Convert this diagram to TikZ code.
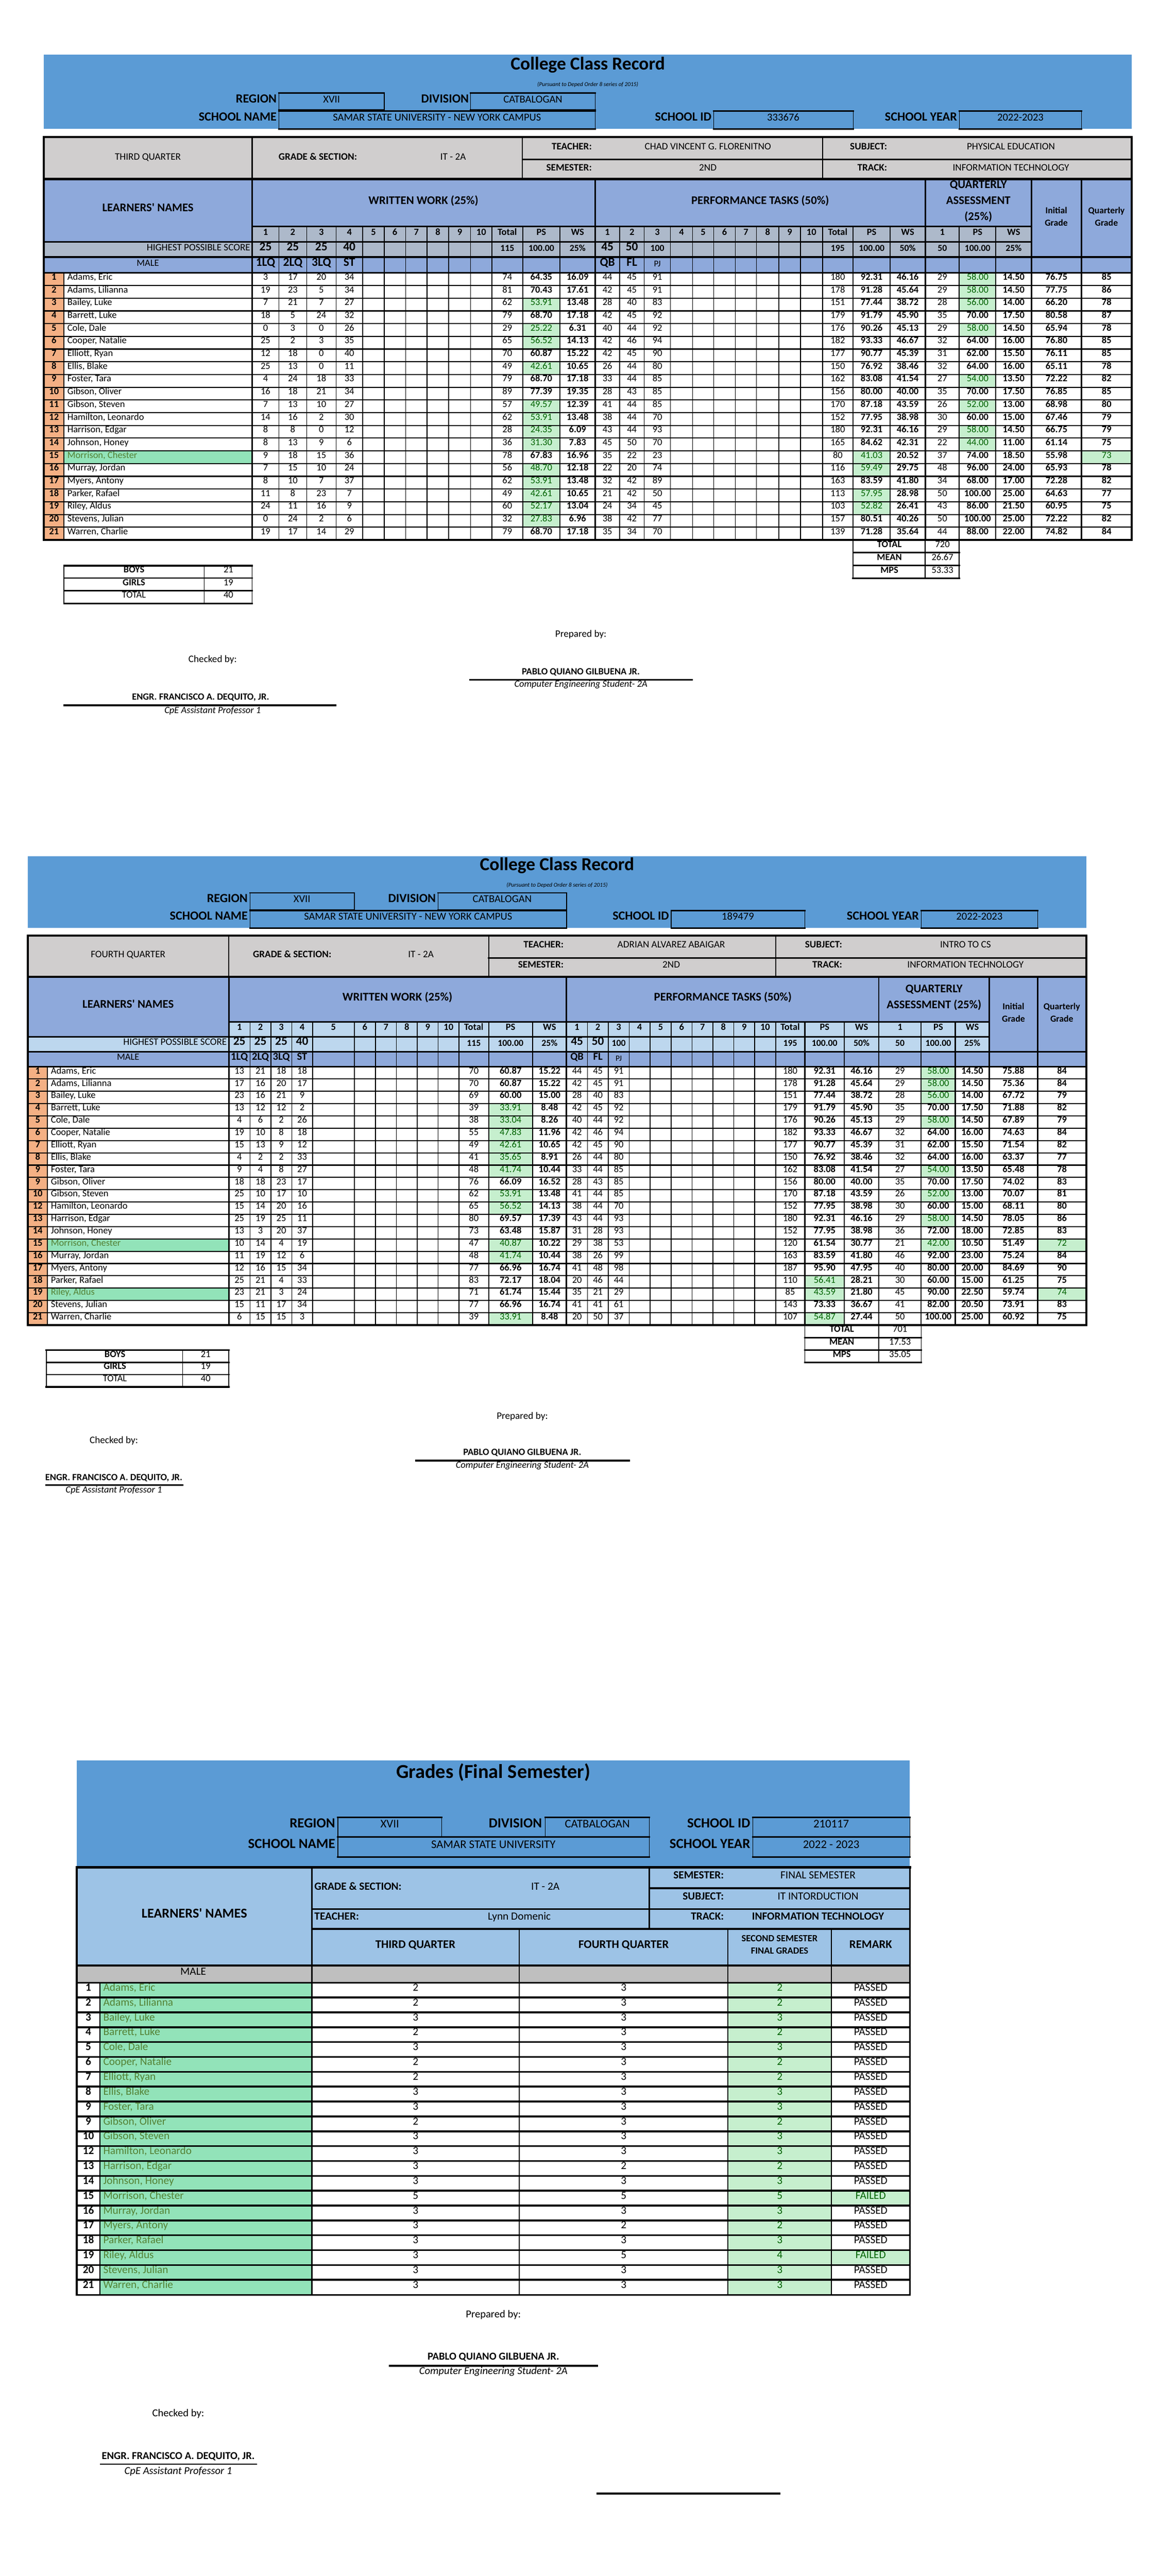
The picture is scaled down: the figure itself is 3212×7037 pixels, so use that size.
\documentclass[tikz,border=0pt]{standalone}
\usepackage{fontspec}
\setmainfont{Carlito}
\newcommand{\fsz}[1]{\fontsize{#1pt}{#1pt}\selectfont}
\definecolor{barblue}{HTML}{5B9BD5}
\definecolor{hdrblue}{HTML}{8EA9DB}
\definecolor{hdrgray}{HTML}{D0CECE}
\definecolor{hpsA}{HTML}{ADB9CA}
\definecolor{hpsB}{HTML}{BDD7EE}
\definecolor{lblue}{HTML}{9DC3E6}
\definecolor{malegray}{HTML}{BFBFBF}
\definecolor{numorange}{HTML}{F4B084}
\definecolor{cN}{HTML}{FFFFFF}
\definecolor{cNt}{HTML}{000000}
\definecolor{cG}{HTML}{C6EFCE}
\definecolor{cGt}{HTML}{006100}
\definecolor{cM}{HTML}{92E3B9}
\definecolor{cMt}{HTML}{548235}
\def\Nf{}\def\Gf{\mdseries}\def\Mf{}
\def\gchar{g}\def\mchar{m}
\def\splitg#1#2\endsplit{\def\firstch{#1}\def\restch{#2}}
\newcommand{\cellcol}[8]{%
  \foreach \itm [count=\rn] in {#8} {%
    \expandafter\splitg\itm\endsplit
    \ifx\firstch\gchar \def\cst{G}\let\cvl\restch
    \else\ifx\firstch\mchar \def\cst{M}\let\cvl\restch
    \else \def\cst{N}\let\cvl\itm \fi\fi
    \pgfmathsetmacro\ya{#4+(\rn-1)*#5}%
    \pgfmathsetmacro\yb{#4+\rn*#5}%
    \pgfmathsetmacro\ym{#4+(\rn-0.5)*#5}%
    \fill[fill=c\cst] (#2,\ya) rectangle (#3,\yb);
    \if#7c
      \node[#6, text=c\cst t] (#1-\rn) at ({(#2+#3)/2},\ym) {\csname\cst f\endcsname\cvl};
    \else
      \node[#6, text=c\cst t, anchor=mid west] (#1-\rn) at ({#2+9},\ym) {\csname\cst f\endcsname\cvl};
    \fi
  }%
}
\newcommand{\numcol}[7]{%
  \foreach \itm [count=\rn] in {#7} {%
    \pgfmathsetmacro\ym{#4+(\rn-0.5)*#5}%
    \node[#6] (#1-\rn) at ({(#2+#3)/2},\ym) {\itm};
  }%
}
\newcommand{\hlin}[4]{\draw[line width=#4pt] (#1,#3) -- (#2,#3);}
\newcommand{\vlin}[4]{\draw[line width=#4pt] (#1,#2) -- (#1,#3);}
\newcommand{\tbox}[4]{\draw[line width=2pt] (#1,#2) rectangle (#3,#4); \draw[line width=4pt] (#1,#2) -- (#3,#2) (#1,#4) -- (#3,#4);}
\tikzset{
  hb/.style={inner sep=0pt, anchor=mid, font=\fsz{#1}\bfseries},
  hr/.style={inner sep=0pt, anchor=mid, font=\fsz{#1}},
  hi/.style={inner sep=0pt, anchor=mid, font=\fsz{#1}\itshape},
  dat/.style={hr=26}, datb/.style={hb=26},
  dat3/.style={hr=30}, dat3b/.style={hb=30},
}
\begin{document}
\begin{tikzpicture}[x=1pt,y=-1pt,line cap=rect]
\useasboundingbox (0,0) rectangle (3212,7037);
\fill[white] (0,0) rectangle (3212,7037);

%%%%%%%%%%%%%%%% TABLE 1 %%%%%%%%%%%%%%%%
\fill[barblue] (120,149) rectangle (3092,352);
\node[hb=50] (t1title) at (1606,189) {College Class Record};
\node[hi=16] (t1sub) at (1606,233) {(Pursuant to Deped Order 8 series of 2015)};
\tbox{762}{254}{1050}{301}
\tbox{1286}{254}{1626}{301}
\tbox{762}{303}{1626}{352}
\tbox{1950}{303}{2331}{352}
\tbox{2621}{303}{2955}{352}
\node[hb=34, anchor=mid east] (t1lr) at (756,278) {REGION};
\node[hr=29] (t1vr) at (906,278) {XVII};
\node[hb=34, anchor=mid east] (t1ld) at (1281,278) {DIVISION};
\node[hr=29] (t1vd) at (1456,278) {CATBALOGAN};
\node[hb=34, anchor=mid east] (t1ls) at (756,328) {SCHOOL NAME};
\node[hr=29] (t1vs) at (1194,328) {SAMAR STATE UNIVERSITY - NEW YORK CAMPUS};
\node[hb=34, anchor=mid east] (t1li) at (1944,328) {SCHOOL ID};
\node[hr=29] (t1vi) at (2140,328) {333676};
\node[hb=34, anchor=mid east] (t1ly) at (2615,328) {SCHOOL YEAR};
\node[hr=29] (t1vy) at (2788,328) {2022-2023};

\fill[hdrgray] (120,374) rectangle (3092,489);
\fill[hdrblue] (120,489) rectangle (3092,745);
\fill[hpsA] (689,618) rectangle (2818,661);
\fill[hpsA] (120,661) rectangle (2818,702);
\fill[numorange] (120,745) rectangle (175,1475);

\node[hr=27] (t1q) at (404,434) {THIRD QUARTER};
\node[hb=27, anchor=mid west] (t1gs) at (761,434) {GRADE \& SECTION:};
\node[hr=27] (t1gsv) at (1238,434) {IT - 2A};
\node[hb=27, anchor=mid east] (t1te) at (1617,407) {TEACHER:};
\node[hr=27] (t1tev) at (1934,407) {CHAD VINCENT G. FLORENITNO};
\node[hb=27, anchor=mid east] (t1se) at (1617,464) {SEMESTER:};
\node[hr=27] (t1sev) at (1934,464) {2ND};
\node[hb=27, anchor=mid east] (t1su) at (2424,407) {SUBJECT:};
\node[hr=27] (t1suv) at (2762,407) {PHYSICAL EDUCATION};
\node[hb=27, anchor=mid east] (t1tr) at (2424,464) {TRACK:};
\node[hr=27] (t1trv) at (2762,464) {INFORMATION TECHNOLOGY};

\node[hb=32] (t1ln) at (404,575) {LEARNERS\textquotesingle{} NAMES};
\node[hb=32] (t1ww) at (1157,555) {WRITTEN WORK (25\%)};
\node[hb=32] (t1pt) at (2077,555) {PERFORMANCE TASKS (50\%)};
\node[hb=32] (t1qa1) at (2673,512) {QUARTERLY};
\node[hb=32] (t1qa2) at (2673,556) {ASSESSMENT};
\node[hb=32] (t1qa3) at (2673,599) {(25\%)};
\node[hb=25] (t1ig1) at (2886,581) {Initial};
\node[hb=25] (t1ig2) at (2886,615) {Grade};
\node[hb=25] (t1qg1) at (3023,581) {Quarterly};
\node[hb=25] (t1qg2) at (3023,615) {Grade};

\foreach \x/\t [count=\i] in {725.5/1,800/2,878/3,954.5/4,1020.5/5,1079/6,1137.5/7,1196.5/8,1256/9,1315/10,1386/Total,1479/PS,1578/WS,1659.5/1,1726.5/2,1796/3,1862/4,1921/5,1979.5/6,2038/7,2097.5/8,2157.5/9,2217/10,2289/Total,2381.5/PS,2480/WS,2574.5/1,2671/PS,2769.5/WS}
  {\node[hb=26] (t1cn-\i) at (\x,640) {\t};}
\node[hr=27, anchor=mid east] (t1hps) at (684,682) {HIGHEST POSSIBLE SCORE};
\foreach \x/\t [count=\i] in {725.5/25,800/25,878/25,954.5/40,1659.5/45,1726.5/50}
  {\node[hb=33] (t1hb-\i) at (\x,682) {\t};}
\foreach \x/\t [count=\i] in {1386/115,1479/100.00,1578/25\%,1796/100,2289/195,2381.5/100.00,2480/50\%,2574.5/50,2671/100.00,2769.5/25\%}
  {\node[hb=25] (t1hr-\i) at (\x,684) {\t};}
\node[hr=26] (t1male) at (404,724) {MALE};
\foreach \x/\t [count=\i] in {725.5/1LQ,800/2LQ,878/3LQ,954.5/ST,1659.5/QB,1726.5/FL}
  {\node[hb=33] (t1ml-\i) at (\x,724) {\t};}
\node[hr=24] (t1pj) at (1796,726) {PJ};

\numcol{t1no}{120}{175}{745}{34.76}{datb}{1,...,21}
\cellcol{t1nm}{175}{689}{745}{34.76}{dat}{l}{{Adams, Eric},{Adams, Lilianna},{Bailey, Luke},{Barrett, Luke},{Cole, Dale},{Cooper, Natalie},{Elliott, Ryan},{Ellis, Blake},{Foster, Tara},{Gibson, Oliver},{Gibson, Steven},{Hamilton, Leonardo},{Harrison, Edgar},{Johnson, Honey},m{Morrison, Chester},{Murray, Jordan},{Myers, Antony},{Parker, Rafael},{Riley, Aldus},{Stevens, Julian},{Warren, Charlie}}
\cellcol{t1w1}{689}{762}{745}{34.76}{dat}{c}{3,19,7,18,0,25,12,25,4,16,7,14,8,8,9,7,8,11,24,0,19}
\cellcol{t1w2}{762}{838}{745}{34.76}{dat}{c}{17,23,21,5,3,2,18,13,24,18,13,16,8,13,18,15,10,8,11,24,17}
\cellcol{t1w3}{838}{918}{745}{34.76}{dat}{c}{20,5,7,24,0,3,0,0,18,21,10,2,0,9,15,10,7,23,16,2,14}
\cellcol{t1w4}{918}{991}{745}{34.76}{dat}{c}{34,34,27,32,26,35,40,11,33,34,27,30,12,6,36,24,37,7,9,6,29}
\cellcol{t1wt}{1344}{1428}{745}{34.76}{dat}{c}{74,81,62,79,29,65,70,49,79,89,57,62,28,36,78,56,62,49,60,32,79}
\cellcol{t1wp}{1428}{1530}{745}{34.76}{datb}{c}{64.35,70.43,g53.91,68.70,g25.22,g56.52,60.87,g42.61,68.70,77.39,g49.57,g53.91,g24.35,g31.30,67.83,g48.70,g53.91,g42.61,g52.17,g27.83,68.70}
\cellcol{t1ww}{1530}{1626}{745}{34.76}{datb}{c}{16.09,17.61,13.48,17.18,6.31,14.13,15.22,10.65,17.18,19.35,12.39,13.48,6.09,7.83,16.96,12.18,13.48,10.65,13.04,6.96,17.18}
\cellcol{t1p1}{1626}{1693}{745}{34.76}{dat}{c}{44,42,28,42,40,42,42,26,33,28,41,38,43,45,35,22,32,21,24,38,35}
\cellcol{t1p2}{1693}{1760}{745}{34.76}{dat}{c}{45,45,40,45,44,46,45,44,44,43,44,44,44,50,22,20,42,42,34,42,34}
\cellcol{t1p3}{1760}{1832}{745}{34.76}{dat}{c}{91,91,83,92,92,94,90,80,85,85,85,70,93,70,23,74,89,50,45,77,70}
\cellcol{t1pt}{2247}{2331}{745}{34.76}{dat}{c}{180,178,151,179,176,182,177,150,162,156,170,152,180,165,80,116,163,113,103,157,139}
\cellcol{t1pp}{2331}{2432}{745}{34.76}{datb}{c}{92.31,91.28,77.44,91.79,90.26,93.33,90.77,76.92,83.08,80.00,87.18,77.95,92.31,84.62,g41.03,g59.49,83.59,g57.95,g52.82,80.51,71.28}
\cellcol{t1pw}{2432}{2528}{745}{34.76}{datb}{c}{46.16,45.64,38.72,45.90,45.13,46.67,45.39,38.46,41.54,40.00,43.59,38.98,46.16,42.31,20.52,29.75,41.80,28.98,26.41,40.26,35.64}
\cellcol{t1q1}{2528}{2621}{745}{34.76}{dat}{c}{29,29,28,35,29,32,31,32,27,35,26,30,29,22,37,48,34,50,43,50,44}
\cellcol{t1qp}{2621}{2721}{745}{34.76}{datb}{c}{g58.00,g58.00,g56.00,70.00,g58.00,64.00,62.00,64.00,g54.00,70.00,g52.00,60.00,g58.00,g44.00,74.00,96.00,68.00,100.00,86.00,100.00,88.00}
\cellcol{t1qw}{2721}{2818}{745}{34.76}{datb}{c}{14.50,14.50,14.00,17.50,14.50,16.00,15.50,16.00,13.50,17.50,13.00,15.00,14.50,11.00,18.50,24.00,17.00,25.00,21.50,25.00,22.00}
\cellcol{t1ig}{2818}{2955}{745}{34.76}{datb}{c}{76.75,77.75,66.20,80.58,65.94,76.80,76.11,65.11,72.22,76.85,68.98,67.46,66.75,61.14,55.98,65.93,72.28,64.63,60.95,72.22,74.82}
\cellcol{t1qg}{2955}{3092}{745}{34.76}{datb}{c}{85,86,78,87,78,85,85,78,82,85,80,79,79,75,g73,78,82,77,75,82,84}

\foreach \x in {762,838,918,991,1050,1108,1167,1226,1286,1693,1760,1832,1892,1950,2009,2067,2128,2187} {\vlin{\x}{618}{1475}{2}}
\foreach \x in {1344,1428,1530,2247,2331,2432,2621,2721} {\vlin{\x}{618}{1475}{3}}
\foreach \x in {689,1626,2528,2818,2955} {\vlin{\x}{489}{1475}{4}}
\vlin{175}{745}{1475}{3}
\foreach \x in {689,1427,2247} {\vlin{\x}{374}{489}{3}}
\hlin{1427}{3092}{436}{4}
\hlin{689}{2818}{618}{4}
\hlin{120}{2818}{661}{4}
\hlin{120}{3092}{702}{5}
\hlin{120}{3092}{745}{5}
\foreach \k in {1,...,20} {\hlin{120}{3092}{745+\k*34.76}{3}}
\hlin{120}{3092}{374}{6}
\hlin{120}{3092}{489}{6}
\hlin{120}{3092}{1475}{5}
\vlin{120}{374}{1475}{5}
\vlin{3092}{374}{1475}{5}

% totals box
\node[hb=26] (t1tl) at (2430,1493) {TOTAL}; \node[hr=26] (t1tv) at (2575,1493) {720};
\node[hb=26] (t1ml) at (2430,1528) {MEAN}; \node[hr=26] (t1mv) at (2575,1528) {26.67};
\node[hb=26] (t1pl) at (2430,1563) {MPS}; \node[hr=26] (t1pv) at (2575,1563) {53.33};
\hlin{2331}{2621}{1510}{4}
\hlin{2331}{2621}{1545}{4}
\hlin{2331}{2621}{1580}{5}
\foreach \x in {2331,2528,2621} {\vlin{\x}{1475}{1580}{2.5}}
% boys box
\node[hb=26] (t1bl) at (366,1562) {BOYS}; \node[hr=26] (t1bv) at (624,1562) {21};
\node[hb=26] (t1gl) at (366,1597) {GIRLS}; \node[hr=26] (t1gv) at (624,1597) {19};
\node[hr=26] (t1al) at (366,1631) {TOTAL}; \node[hr=26] (t1av) at (624,1631) {40};
\hlin{175}{689}{1545}{5}
\hlin{175}{689}{1579}{4}
\hlin{175}{689}{1614}{4}
\hlin{175}{689}{1649}{5}
\foreach \x in {175,558,689} {\vlin{\x}{1545}{1649}{2.5}}
% signatures
\node[hr=27] (t1prep) at (1587,1738) {Prepared by:};
\node[hb=26] (t1pab) at (1587,1841) {PABLO QUIANO GILBUENA JR.};
\hlin{1284}{1891}{1857}{5}
\node[hi=26] (t1stu) at (1587,1875) {Computer Engineering Student- 2A};
\node[hr=27] (t1chk) at (581,1807) {Checked by:};
\node[hb=26] (t1eng) at (548,1910) {ENGR. FRANCISCO A. DEQUITO, JR.};
\hlin{175}{917}{1927}{5}
\node[hi=26] (t1cpe) at (581,1946) {CpE Assistant Professor 1};

%%%%%%%%%%%%%%%% TABLE 2 %%%%%%%%%%%%%%%%
\fill[barblue] (76,2339) rectangle (2968,2535);
\node[hb=50] (t2title) at (1522,2375) {College Class Record};
\node[hi=16] (t2sub) at (1522,2421) {(Pursuant to Deped Order 8 series of 2015)};
\tbox{683}{2439}{968}{2486}
\tbox{1197}{2439}{1548}{2486}
\tbox{683}{2487}{1548}{2535}
\tbox{1834}{2487}{2199}{2535}
\tbox{2517}{2487}{2835}{2535}
\node[hb=34, anchor=mid east] (t2lr) at (677,2462) {REGION};
\node[hr=29] (t2vr) at (825,2462) {XVII};
\node[hb=34, anchor=mid east] (t2ld) at (1191,2462) {DIVISION};
\node[hr=29] (t2vd) at (1372,2462) {CATBALOGAN};
\node[hb=34, anchor=mid east] (t2ls) at (677,2511) {SCHOOL NAME};
\node[hr=29] (t2vs) at (1115,2511) {SAMAR STATE UNIVERSITY - NEW YORK CAMPUS};
\node[hb=34, anchor=mid east] (t2li) at (1828,2511) {SCHOOL ID};
\node[hr=29] (t2vi) at (2016,2511) {189479};
\node[hb=34, anchor=mid east] (t2ly) at (2511,2511) {SCHOOL YEAR};
\node[hr=29] (t2vy) at (2676,2511) {2022-2023};

\fill[hdrgray] (76,2556) rectangle (2968,2668);
\fill[hdrblue] (76,2668) rectangle (2968,2914);
\fill[hpsB] (625,2791) rectangle (2703,2832);
\fill[hpsB] (76,2832) rectangle (2703,2873);
\fill[numorange] (76,2914) rectangle (130,3620);

\node[hr=27] (t2q) at (350,2613) {FOURTH QUARTER};
\node[hb=27, anchor=mid west] (t2gs) at (691,2613) {GRADE \& SECTION:};
\node[hr=27] (t2gsv) at (1150,2613) {IT - 2A};
\node[hb=27, anchor=mid east] (t2te) at (1540,2587) {TEACHER:};
\node[hr=27] (t2tev) at (1834,2587) {ADRIAN ALVAREZ ABAIGAR};
\node[hb=27, anchor=mid east] (t2se) at (1540,2642) {SEMESTER:};
\node[hr=27] (t2sev) at (1834,2642) {2ND};
\node[hb=27, anchor=mid east] (t2su) at (2301,2587) {SUBJECT:};
\node[hr=27] (t2suv) at (2638,2587) {INTRO TO CS};
\node[hb=27, anchor=mid east] (t2tr) at (2301,2642) {TRACK:};
\node[hr=27] (t2trv) at (2638,2642) {INFORMATION TECHNOLOGY};

\node[hb=32] (t2ln) at (350,2751) {LEARNERS\textquotesingle{} NAMES};
\node[hb=32] (t2ww) at (1086,2731) {WRITTEN WORK (25\%)};
\node[hb=32] (t2pt) at (1975,2731) {PERFORMANCE TASKS (50\%)};
\node[hb=32] (t2qa1) at (2552,2709) {QUARTERLY};
\node[hb=32] (t2qa2) at (2552,2753) {ASSESSMENT (25\%)};
\node[hb=25] (t2ig1) at (2769,2756) {Initial};
\node[hb=25] (t2ig2) at (2769,2789) {Grade};
\node[hb=25] (t2qg1) at (2901,2756) {Quarterly};
\node[hb=25] (t2qg2) at (2901,2789) {Grade};

\foreach \x/\t [count=\i] in {654/1,711.5/2,768.5/3,825.5/4,911/5,997/6,1054.5/7,1111.5/8,1168.5/9,1225.5/10,1294.5/Total,1395/PS,1501.5/WS,1576.5/1,1633.5/2,1690.5/3,1747.5/4,1805/5,1862.5/6,1919.5/7,1976.5/8,2033.5/9,2090.5/10,2159/Total,2253/PS,2354/WS,2459/1,2563.5/PS,2656.5/WS}
  {\node[hb=26] (t2cn-\i) at (\x,2812) {\t};}
\node[hr=27, anchor=mid east] (t2hps) at (620,2853) {HIGHEST POSSIBLE SCORE};
\foreach \x/\t [count=\i] in {654/25,711.5/25,768.5/25,825.5/40,1576.5/45,1633.5/50}
  {\node[hb=33] (t2hb-\i) at (\x,2853) {\t};}
\foreach \x/\t [count=\i] in {1294.5/115,1395/100.00,1501.5/25\%,1690.5/100,2159/195,2253/100.00,2354/50\%,2459/50,2563.5/100.00,2656.5/25\%}
  {\node[hb=25] (t2hr-\i) at (\x,2855) {\t};}
\node[hr=26] (t2male) at (350,2894) {MALE};
\foreach \x/\t [count=\i] in {654/1LQ,711.5/2LQ,768.5/3LQ,825.5/ST,1576.5/QB,1633.5/FL}
  {\node[hb=29] (t2ml-\i) at (\x,2894) {\t};}
\node[hr=22] (t2pj) at (1690.5,2896) {PJ};

\numcol{t2no}{76}{130}{2914}{33.6}{datb}{1,2,3,4,5,6,7,8,9,9,10,12,13,14,15,16,17,18,19,20,21}
\cellcol{t2nm}{130}{625}{2914}{33.6}{dat}{l}{{Adams, Eric},{Adams, Lilianna},{Bailey, Luke},{Barrett, Luke},{Cole, Dale},{Cooper, Natalie},{Elliott, Ryan},{Ellis, Blake},{Foster, Tara},{Gibson, Oliver},{Gibson, Steven},{Hamilton, Leonardo},{Harrison, Edgar},{Johnson, Honey},m{Morrison, Chester},{Murray, Jordan},{Myers, Antony},{Parker, Rafael},m{Riley, Aldus},{Stevens, Julian},{Warren, Charlie}}
\cellcol{t2w1}{625}{683}{2914}{33.6}{dat}{c}{13,17,23,13,4,19,15,4,9,18,25,15,25,13,10,11,12,25,23,15,6}
\cellcol{t2w2}{683}{740}{2914}{33.6}{dat}{c}{21,16,16,12,6,10,13,2,4,18,10,14,19,3,14,19,16,21,21,11,15}
\cellcol{t2w3}{740}{797}{2914}{33.6}{dat}{c}{18,20,21,12,2,8,9,2,8,23,17,20,25,20,4,12,15,4,3,17,15}
\cellcol{t2w4}{797}{854}{2914}{33.6}{dat}{c}{18,17,9,2,26,18,12,33,27,17,10,16,11,37,19,6,34,33,24,34,3}
\cellcol{t2wt}{1254}{1335}{2914}{33.6}{dat}{c}{70,70,69,39,38,55,49,41,48,76,62,65,80,73,47,48,77,83,71,77,39}
\cellcol{t2wp}{1335}{1455}{2914}{33.6}{datb}{c}{60.87,60.87,60.00,g33.91,g33.04,g47.83,g42.61,g35.65,g41.74,66.09,g53.91,g56.52,69.57,63.48,g40.87,g41.74,66.96,72.17,61.74,66.96,g33.91}
\cellcol{t2ww}{1455}{1548}{2914}{33.6}{datb}{c}{15.22,15.22,15.00,8.48,8.26,11.96,10.65,8.91,10.44,16.52,13.48,14.13,17.39,15.87,10.22,10.44,16.74,18.04,15.44,16.74,8.48}
\cellcol{t2p1}{1548}{1605}{2914}{33.6}{dat}{c}{44,42,28,42,40,42,42,26,33,28,41,38,43,31,29,38,41,20,35,41,20}
\cellcol{t2p2}{1605}{1662}{2914}{33.6}{dat}{c}{45,45,40,45,44,46,45,44,44,43,44,44,44,28,38,26,48,46,21,41,50}
\cellcol{t2p3}{1662}{1719}{2914}{33.6}{dat}{c}{91,91,83,92,92,94,90,80,85,85,85,70,93,93,53,99,98,44,29,61,37}
\cellcol{t2pt}{2119}{2199}{2914}{33.6}{dat}{c}{180,178,151,179,176,182,177,150,162,156,170,152,180,152,120,163,187,110,85,143,107}
\cellcol{t2pp}{2199}{2307}{2914}{33.6}{datb}{c}{92.31,91.28,77.44,91.79,90.26,93.33,90.77,76.92,83.08,80.00,87.18,77.95,92.31,77.95,61.54,83.59,95.90,g56.41,g43.59,73.33,g54.87}
\cellcol{t2pw}{2307}{2401}{2914}{33.6}{datb}{c}{46.16,45.64,38.72,45.90,45.13,46.67,45.39,38.46,41.54,40.00,43.59,38.98,46.16,38.98,30.77,41.80,47.95,28.21,21.80,36.67,27.44}
\cellcol{t2q1}{2401}{2517}{2914}{33.6}{dat}{c}{29,29,28,35,29,32,31,32,27,35,26,30,29,36,21,46,40,30,45,41,50}
\cellcol{t2qp}{2517}{2610}{2914}{33.6}{datb}{c}{g58.00,g58.00,g56.00,70.00,g58.00,64.00,62.00,64.00,g54.00,70.00,g52.00,60.00,g58.00,72.00,g42.00,92.00,80.00,60.00,90.00,82.00,100.00}
\cellcol{t2qw}{2610}{2703}{2914}{33.6}{datb}{c}{14.50,14.50,14.00,17.50,14.50,16.00,15.50,16.00,13.50,17.50,13.00,15.00,14.50,18.00,10.50,23.00,20.00,15.00,22.50,20.50,25.00}
\cellcol{t2ig}{2703}{2835}{2914}{33.6}{datb}{c}{75.88,75.36,67.72,71.88,67.89,74.63,71.54,63.37,65.48,74.02,70.07,68.11,78.05,72.85,51.49,75.24,84.69,61.25,59.74,73.91,60.92}
\cellcol{t2qg}{2835}{2968}{2914}{33.6}{datb}{c}{84,84,79,82,79,84,82,77,78,83,81,80,86,83,g72,84,90,75,g74,83,75}

\foreach \x in {683,740,797,854,968,1026,1083,1140,1197,1605,1662,1719,1776,1834,1891,1948,2005,2062} {\vlin{\x}{2791}{3620}{2}}
\foreach \x in {1254,1335,1455,2119,2199,2307,2517,2610} {\vlin{\x}{2791}{3620}{3}}
\foreach \x in {625,1548,2401,2703,2835} {\vlin{\x}{2668}{3620}{4}}
\vlin{130}{2914}{3620}{3}
\foreach \x in {625,1335,2119} {\vlin{\x}{2556}{2668}{3}}
\hlin{1335}{2968}{2617}{4}
\hlin{625}{2703}{2791}{4}
\hlin{76}{2703}{2832}{4}
\hlin{76}{2968}{2873}{5}
\hlin{76}{2968}{2914}{5}
\foreach \k in {1,...,20} {\hlin{76}{2968}{2914+\k*33.6}{3}}
\hlin{76}{2968}{2556}{6}
\hlin{76}{2968}{2668}{6}
\hlin{76}{2968}{3620}{5}
\vlin{76}{2556}{3620}{5}
\vlin{2968}{2556}{3620}{5}

\node[hb=26] (t2tl) at (2300,3637) {TOTAL}; \node[hr=26] (t2tv) at (2459,3637) {701};
\node[hb=26] (t2ml) at (2300,3671) {MEAN}; \node[hr=26] (t2mv) at (2459,3671) {17.53};
\node[hb=26] (t2pl) at (2300,3705) {MPS}; \node[hr=26] (t2pv) at (2459,3705) {35.05};
\hlin{2199}{2517}{3654}{4}
\hlin{2199}{2517}{3688}{4}
\hlin{2199}{2517}{3722}{5}
\foreach \x in {2199,2401,2517} {\vlin{\x}{3620}{3722}{2.5}}
\node[hb=26] (t2bl) at (314,3705) {BOYS}; \node[hr=26] (t2bv) at (562,3705) {21};
\node[hb=26] (t2gl) at (314,3738) {GIRLS}; \node[hr=26] (t2gv) at (562,3738) {19};
\node[hr=26] (t2al) at (314,3772) {TOTAL}; \node[hr=26] (t2av) at (562,3772) {40};
\hlin{127}{625}{3688}{5}
\hlin{127}{625}{3722}{4}
\hlin{127}{625}{3755}{4}
\hlin{127}{625}{3789}{5}
\foreach \x in {127,499,625} {\vlin{\x}{3688}{3789}{2.5}}
\node[hr=27] (t2prep) at (1427,3874) {Prepared by:};
\node[hb=26] (t2pab) at (1427,3973) {PABLO QUIANO GILBUENA JR.};
\hlin{1137}{1719}{3990}{5}
\node[hi=26] (t2stu) at (1427,4008) {Computer Engineering Student- 2A};
\node[hr=27] (t2chk) at (311,3941) {Checked by:};
\node[hb=26] (t2eng) at (311,4042) {ENGR. FRANCISCO A. DEQUITO, JR.};
\hlin{127}{499}{4057}{5}
\node[hi=26] (t2cpe) at (311,4075) {CpE Assistant Professor 1};

%%%%%%%%%%%%%%%% TABLE 3 %%%%%%%%%%%%%%%%
\fill[barblue] (210,4809) rectangle (2486,5100);
\node[hb=54] (t3title) at (1348,4855) {Grades (Final Semester)};
\tbox{923}{4964}{1207}{5018}
\tbox{1490}{4964}{1774}{5018}
\tbox{923}{5018}{1774}{5073}
\tbox{2057}{4964}{2486}{5018}
\tbox{2057}{5018}{2486}{5073}
\node[hb=38, anchor=mid east] (t3lr) at (916,4991) {REGION};
\node[hr=32] (t3vr) at (1065,4991) {XVII};
\node[hb=38, anchor=mid east] (t3ld) at (1481,4991) {DIVISION};
\node[hr=32] (t3vd) at (1632,4991) {CATBALOGAN};
\node[hb=38, anchor=mid east] (t3li) at (2050,4991) {SCHOOL ID};
\node[hr=32] (t3vi) at (2271,4991) {210117};
\node[hb=38, anchor=mid east] (t3ls) at (916,5046) {SCHOOL NAME};
\node[hr=32] (t3vs) at (1348,5046) {SAMAR STATE UNIVERSITY};
\node[hb=38, anchor=mid east] (t3ly) at (2050,5046) {SCHOOL YEAR};
\node[hr=32] (t3vy) at (2271,5046) {2022 - 2023};

\fill[lblue] (210,5101) rectangle (2486,5369);
\fill[malegray] (210,5369) rectangle (2486,5416);
\node[hb=37] (t3ln) at (531,5237) {LEARNERS\textquotesingle{} NAMES};
\node[hb=30, anchor=mid west] (t3gs) at (859,5160) {GRADE \& SECTION:};
\node[hr=30] (t3gsv) at (1490,5160) {IT - 2A};
\node[hb=30, anchor=mid west] (t3te) at (859,5242) {TEACHER:};
\node[hr=30] (t3tev) at (1419,5242) {Lynn Domenic};
\node[hb=30, anchor=mid east] (t3se) at (1978,5130) {SEMESTER:};
\node[hr=30] (t3sev) at (2235,5130) {FINAL SEMESTER};
\node[hb=30, anchor=mid east] (t3su) at (1978,5187) {SUBJECT:};
\node[hr=30] (t3suv) at (2235,5187) {IT INTORDUCTION};
\node[hb=30, anchor=mid east] (t3tr) at (1978,5242) {TRACK:};
\node[hb=30] (t3trv) at (2235,5242) {INFORMATION TECHNOLOGY};
\node[hb=32] (t3c3) at (1135,5320) {THIRD QUARTER};
\node[hb=32] (t3c4) at (1704,5320) {FOURTH QUARTER};
\node[hb=26] (t3cf1) at (2130,5302) {SECOND SEMESTER};
\node[hb=26] (t3cf2) at (2130,5335) {FINAL GRADES};
\node[hb=32] (t3cr) at (2379,5320) {REMARK};
\node[hr=30] (t3male) at (528,5393) {MALE};

\numcol{t3no}{210}{273}{5416}{40.6}{dat3b}{1,2,3,4,5,6,7,8,9,9,10,12,13,14,15,16,17,18,19,20,21}
\cellcol{t3nm}{273}{852}{5416}{40.6}{dat3}{l}{m{Adams, Eric},m{Adams, Lilianna},m{Bailey, Luke},m{Barrett, Luke},m{Cole, Dale},m{Cooper, Natalie},m{Elliott, Ryan},m{Ellis, Blake},m{Foster, Tara},m{Gibson, Oliver},m{Gibson, Steven},m{Hamilton, Leonardo},m{Harrison, Edgar},m{Johnson, Honey},m{Morrison, Chester},m{Murray, Jordan},m{Myers, Antony},m{Parker, Rafael},m{Riley, Aldus},m{Stevens, Julian},m{Warren, Charlie}}
\cellcol{t3q3}{852}{1419}{5416}{40.6}{dat3}{c}{2,2,3,2,3,2,2,3,3,2,3,3,3,3,5,3,3,3,3,3,3}
\cellcol{t3q4}{1419}{1989}{5416}{40.6}{dat3}{c}{3,3,3,3,3,3,3,3,3,3,3,3,2,3,5,3,2,3,5,3,3}
\cellcol{t3fg}{1989}{2272}{5416}{40.6}{dat3}{c}{g2,g2,g3,g2,g3,g2,g2,g3,g3,g2,g3,g3,g2,g3,g5,g3,g2,g3,g4,g3,g3}
\cellcol{t3rm}{2272}{2486}{5416}{40.6}{dat3}{c}{PASSED,PASSED,PASSED,PASSED,PASSED,PASSED,PASSED,PASSED,PASSED,PASSED,PASSED,PASSED,PASSED,PASSED,gFAILED,PASSED,PASSED,PASSED,gFAILED,PASSED,PASSED}

\vlin{852}{5101}{6269}{4}
\vlin{1774}{5101}{5269}{3}
\foreach \x in {1419,1989,2272} {\vlin{\x}{5269}{6269}{3}}
\vlin{273}{5416}{6269}{3}
\hlin{1774}{2486}{5158}{5}
\hlin{852}{2486}{5215}{5}
\hlin{852}{2486}{5269}{5}
\hlin{210}{2486}{5369}{5}
\hlin{210}{2486}{5416}{5}
\foreach \k in {1,...,20} {\hlin{210}{2486}{5416+\k*40.6}{5}}
\hlin{210}{2486}{5101}{6}
\hlin{210}{2486}{6269}{5}
\vlin{210}{5101}{6269}{5}
\vlin{2486}{5101}{6269}{5}

\node[hr=29] (t3prep) at (1348,6329) {Prepared by:};
\node[hb=29] (t3pab) at (1348,6444) {PABLO QUIANO GILBUENA JR.};
\hlin{1065}{1632}{6463}{5}
\node[hi=29] (t3stu) at (1348,6483) {Computer Engineering Student- 2A};
\node[hr=29] (t3chk) at (487,6599) {Checked by:};
\node[hb=29] (t3eng) at (487,6716) {ENGR. FRANCISCO A. DEQUITO, JR.};
\hlin{275}{701}{6731}{3}
\node[hi=29] (t3cpe) at (487,6757) {CpE Assistant Professor 1};
\hlin{1632}{2130}{6812}{5}
\end{tikzpicture}
\end{document}
